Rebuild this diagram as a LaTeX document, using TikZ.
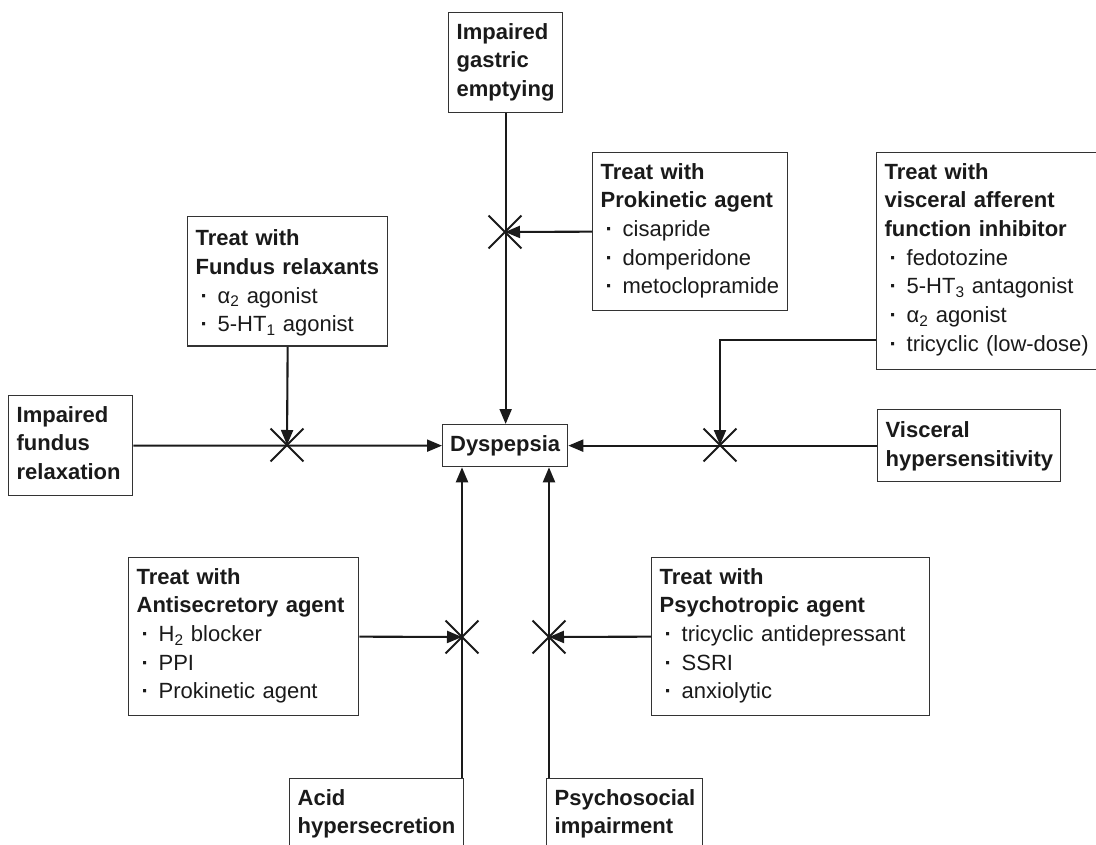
\documentclass[tikz,border=0pt]{standalone}
\usepackage{fontspec}
\setmainfont{Liberation Sans}
\usetikzlibrary{arrows.meta,shapes.misc}
\newcommand\itm{\makebox[22pt][l]{\hspace{5pt}{\bfseries\textperiodcentered}}}
\newcommand\fsz{\fontsize{22}{28.7}\selectfont}
\newcommand\topst{\rule{0pt}{26.5pt}}
\newcommand\botst[1]{\rule[-#1pt]{0pt}{#1pt}}
\newcommand\lne[1]{\mbox{#1}}
\definecolor{ink}{HTML}{1A1A1A}
\definecolor{edge}{HTML}{333333}
\tikzset{
  box/.style={draw=edge, line width=1.3pt, anchor=north west, inner xsep=8pt, inner ysep=0pt,
    align=left, font=\fsz, text=ink},
  conn/.style={line width=2.1pt, draw=ink},
  arr/.style={conn, -{Triangle[length=15pt,width=12pt]}},
  xmark/.style={draw=ink, cross out, line width=1.9pt, minimum size=31pt, inner sep=0pt},
}
\begin{document}
\begin{tikzpicture}[x=1pt,y=-1pt]
\useasboundingbox (0,0) rectangle (1096,845);
\clip (0,0) rectangle (1096,845);
\fill[white] (0,0) rectangle (1096,845);

% boxes
\node[box, text width=98pt] (gastric) at (448,12)
  {\topst\lne{\bfseries Impaired}\\\lne{\bfseries gastric}\\\lne{\bfseries emptying}\botst{16}};
\node[box, text width=179pt] (prok) at (592,152)
  {\topst\lne{\bfseries Treat with}\\\lne{\bfseries Prokinetic agent}\\\itm cisapride\\\itm domperidone\\\itm metoclopramide\botst{16.7}};
\node[box, text width=224pt] (aff) at (876,152)
  {\topst\lne{\bfseries Treat with}\\\lne{\bfseries visceral afferent}\\\lne{\bfseries function inhibitor}\\\itm fedotozine\\\lne{\itm 5-HT\textsubscript{3} antagonist}\\\lne{\itm α\textsubscript{2} agonist}\\\lne{\itm tricyclic (low-dose)}\botst{18.3}};
\node[box, text width=184pt] (frx) at (187,216)
  {\rule{0pt}{29pt}\lne{\bfseries Treat with}\\\lne{\bfseries Fundus relaxants}\\\lne{\itm α\textsubscript{2} agonist}\\\lne{\itm 5-HT\textsubscript{1} agonist}\botst{14.4}};
\node[box, text width=108pt] (frel) at (8,395)
  {\topst\lne{\bfseries Impaired}\\\lne{\bfseries fundus}\\\lne{\bfseries relaxation}\botst{16}};
\node[draw=edge, line width=1.3pt, anchor=north west, minimum width=125pt, minimum height=42pt,
  inner sep=0pt, font=\fsz\bfseries, text=ink] (dys) at (442,424) {Dyspepsia};
\node[box, text width=167pt] (vis) at (877,409)
  {\rule{0pt}{28pt}\lne{\bfseries Visceral}\\\lne{\bfseries hypersensitivity}\botst{15.3}};
\node[box, text width=214pt] (anti) at (128,557)
  {\topst\lne{\bfseries Treat with}\\\lne{\bfseries Antisecretory agent}\\\lne{\itm H\textsubscript{2} blocker}\\\itm PPI\\\lne{\itm Prokinetic agent}\botst{16.7}};
\node[box, text width=262pt] (psyt) at (651,557)
  {\topst\lne{\bfseries Treat with}\\\lne{\bfseries Psychotropic agent}\\\lne{\itm tricyclic antidepressant}\\\itm SSRI\\\itm anxiolytic\botst{16.7}};
\node[box, text width=158pt] (acid) at (289,778)
  {\topst\lne{\bfseries Acid}\\\lne{\bfseries hypersecretion}\botst{45}};
\node[box, text width=140pt] (psys) at (546,778)
  {\topst\lne{\bfseries Psychosocial}\\\lne{\bfseries impairment}\botst{45}};

% crosses
\node[xmark] (xg) at (505,232) {};
\node[xmark] (xf) at (287,445) {};
\node[xmark] (xv) at (720,445) {};
\node[xmark] (xa) at (462,637) {};
\node[xmark] (xp) at (549,637) {};
\coordinate (affout) at (876,340);

% connectors
\draw[arr] (gastric.south) -- (gastric.south |- dys.north);
\draw[arr] (prok.west) -- (xg.center);
\draw[arr] (frel.east) -- (dys.west);
\draw[arr] (frx.south) -- (xf.center);
\draw[arr] (vis.west) -- (dys.east);
\draw[arr] (affout) -| (xv.center);
\draw[arr] (xa |- acid.north) -- (xa |- dys.south);
\draw[arr] (xp |- psys.north) -- (xp |- dys.south);
\draw[arr] (anti.east) -- (xa.center);
\draw[arr] (psyt.west) -- (xp.center);
\end{tikzpicture}
\end{document}
